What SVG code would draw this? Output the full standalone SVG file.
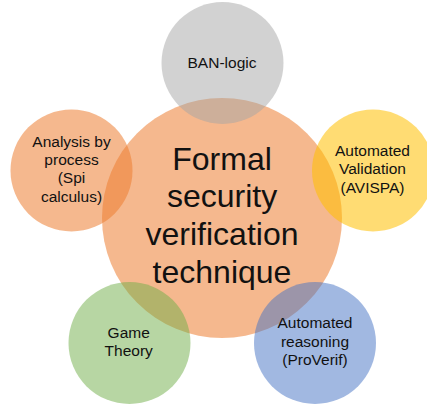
<svg xmlns="http://www.w3.org/2000/svg" width="427" height="406" viewBox="0 0 427 406">
<style>
  .c { fill-opacity: 0.55; stroke: none; }
  .soft { fill-opacity: 0.5; }
  .t { font-family: "Liberation Sans", "DejaVu Sans", sans-serif; font-size: 15.5px; fill: #111; text-anchor: middle; }
  .big { font-size: 32px; }
</style>
<rect width="427" height="406" fill="#ffffff"/>
<g id="center">
  <circle class="c" cx="222" cy="218" r="120" fill="#ED7D31"/>
</g>
<g id="ban-logic">
  <circle class="c soft" cx="222.5" cy="63" r="61" fill="#A5A5A5"/>
  <text class="t" x="222" y="67.5">BAN-logic</text>
</g>
<g id="analysis">
  <circle class="c" cx="71.5" cy="170.5" r="61" fill="#ED7D31"/>
  <text class="t" x="71.5" y="146.5">Analysis by</text>
  <text class="t" x="71.5" y="165">process</text>
  <text class="t" x="71.5" y="183.3">(Spi</text>
  <text class="t" x="71.5" y="201.6">calculus)</text>
</g>
<g id="validation">
  <circle class="c" cx="373" cy="170.5" r="61" fill="#FFC000"/>
  <text class="t" x="372.5" y="156">Automated</text>
  <text class="t" x="372.5" y="174.3">Validation</text>
  <text class="t" x="372.5" y="192.6">(AVISPA)</text>
</g>
<g id="game-theory">
  <circle class="c soft" cx="129.5" cy="343" r="61" fill="#70AD47"/>
  <text class="t" x="128.7" y="337.7">Game</text>
  <text class="t" x="128.7" y="356">Theory</text>
</g>
<g id="reasoning">
  <circle class="c soft" cx="315" cy="343" r="61" fill="#4472C4"/>
  <text class="t" x="315" y="328.3">Automated</text>
  <text class="t" x="315" y="346.6">reasoning</text>
  <text class="t" x="315" y="364.9">(ProVerif)</text>
</g>
<g id="center-label">
  <text class="t big" x="222" y="169.5">Formal</text>
  <text class="t big" x="222" y="207">security</text>
  <text class="t big" x="222" y="245">verification</text>
  <text class="t big" x="222" y="282.7">technique</text>
</g>
<g id="connectors"/>
</svg>
